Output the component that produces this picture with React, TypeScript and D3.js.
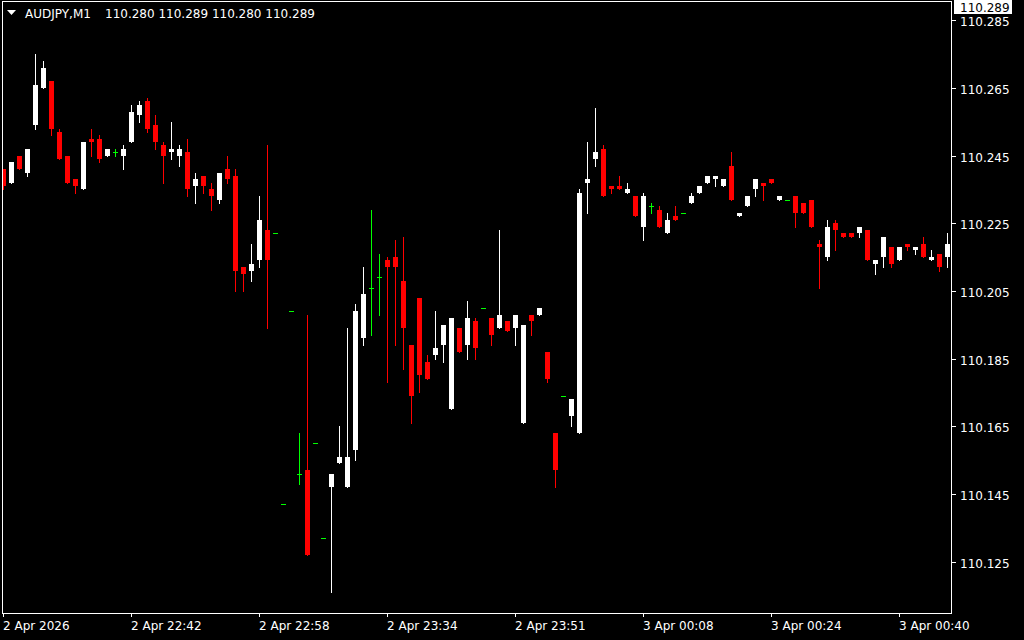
import React, { useEffect, useRef } from "react";
import * as d3 from "d3";

// AUDJPY M1 bars (oldest first)
const opens = [
  110.241, 110.237, 110.245, 110.240, 110.254, 110.265, 110.267, 110.252, 110.245, 110.238,
  110.235, 110.250, 110.250, 110.245, 110.246, 110.245, 110.249, 110.257, 110.261, 110.254,
  110.248, 110.246, 110.245, 110.246, 110.236, 110.239, 110.235, 110.232, 110.241, 110.239,
  110.212, 110.211, 110.214, 110.223, 110.222, 110.142, 110.199, 110.151, 110.152, 110.160,
  110.132, 110.147, 110.154, 110.147, 110.158, 110.191, 110.206, 110.209, 110.214, 110.215,
  110.208, 110.189, 110.203, 110.184, 110.186, 110.189, 110.170, 110.194, 110.189, 110.196,
  110.200, 110.197, 110.194, 110.196, 110.194, 110.166, 110.198, 110.198, 110.187, 110.163,
  110.174, 110.168, 110.163, 110.237, 110.244, 110.247, 110.236, 110.236, 110.234, 110.233,
  110.224, 110.230, 110.229, 110.222, 110.227, 110.228, 110.231, 110.234, 110.237, 110.238,
  110.236, 110.242, 110.227, 110.230, 110.235, 110.237, 110.238, 110.232, 110.232, 110.233,
  110.231, 110.232, 110.219, 110.215, 110.225, 110.222, 110.222, 110.222, 110.223, 110.213,
  110.215, 110.218, 110.214, 110.219, 110.217, 110.219, 110.214, 110.216, 110.215,
];
const highs = [
  110.241, 110.243, 110.245, 110.247, 110.275, 110.273, 110.267, 110.253, 110.245, 110.238,
  110.249, 110.253, 110.251, 110.247, 110.247, 110.248, 110.260, 110.261, 110.262, 110.257,
  110.249, 110.255, 110.248, 110.250, 110.240, 110.239, 110.237, 110.240, 110.245, 110.241,
  110.212, 110.219, 110.233, 110.248, 110.222, 110.142, 110.199, 110.163, 110.198, 110.160,
  110.132, 110.151, 110.165, 110.194, 110.201, 110.212, 110.229, 110.216, 110.215, 110.220,
  110.221, 110.189, 110.203, 110.186, 110.199, 110.195, 110.197, 110.194, 110.202, 110.197,
  110.200, 110.197, 110.223, 110.196, 110.198, 110.195, 110.198, 110.200, 110.187, 110.163,
  110.174, 110.173, 110.235, 110.249, 110.259, 110.248, 110.236, 110.239, 110.237, 110.233,
  110.234, 110.231, 110.230, 110.228, 110.230, 110.228, 110.234, 110.236, 110.239, 110.239,
  110.238, 110.246, 110.228, 110.233, 110.238, 110.237, 110.238, 110.233, 110.232, 110.233,
  110.231, 110.232, 110.220, 110.226, 110.226, 110.222, 110.222, 110.224, 110.223, 110.214,
  110.221, 110.218, 110.218, 110.219, 110.218, 110.221, 110.217, 110.216, 110.222,
];
const lows = [
  110.235, 110.237, 110.241, 110.239, 110.253, 110.265, 110.251, 110.244, 110.237, 110.234,
  110.235, 110.245, 110.243, 110.245, 110.245, 110.241, 110.249, 110.255, 110.252, 110.247,
  110.237, 110.244, 110.242, 110.233, 110.231, 110.234, 110.229, 110.231, 110.237, 110.205,
  110.205, 110.208, 110.212, 110.194, 110.222, 110.142, 110.199, 110.148, 110.127, 110.160,
  110.132, 110.116, 110.154, 110.147, 110.155, 110.189, 110.192, 110.198, 110.178, 110.189,
  110.182, 110.166, 110.175, 110.179, 110.185, 110.184, 110.170, 110.187, 110.185, 110.185,
  110.200, 110.189, 110.194, 110.193, 110.189, 110.166, 110.192, 110.198, 110.178, 110.147,
  110.174, 110.165, 110.163, 110.228, 110.242, 110.233, 110.234, 110.235, 110.234, 110.227,
  110.220, 110.228, 110.224, 110.222, 110.226, 110.228, 110.231, 110.234, 110.237, 110.236,
  110.236, 110.232, 110.227, 110.230, 110.233, 110.232, 110.237, 110.232, 110.232, 110.224,
  110.228, 110.224, 110.206, 110.214, 110.217, 110.221, 110.221, 110.221, 110.214, 110.210,
  110.212, 110.212, 110.214, 110.217, 110.216, 110.215, 110.214, 110.211, 110.212,
];
const closes = [
  110.236, 110.243, 110.241, 110.247, 110.266, 110.271, 110.253, 110.244, 110.237, 110.236,
  110.249, 110.249, 110.244, 110.247, 110.246, 110.247, 110.258, 110.260, 110.253, 110.249,
  110.245, 110.247, 110.247, 110.235, 110.238, 110.236, 110.233, 110.240, 110.238, 110.211,
  110.210, 110.213, 110.226, 110.214, 110.222, 110.142, 110.199, 110.151, 110.127, 110.160,
  110.132, 110.151, 110.156, 110.156, 110.199, 110.204, 110.206, 110.209, 110.212, 110.212,
  110.194, 110.174, 110.180, 110.179, 110.188, 110.195, 110.197, 110.187, 110.197, 110.188,
  110.200, 110.192, 110.198, 110.193, 110.198, 110.195, 110.196, 110.200, 110.179, 110.152,
  110.174, 110.173, 110.234, 110.238, 110.246, 110.233, 110.235, 110.235, 110.235, 110.227,
  110.233, 110.230, 110.224, 110.226, 110.226, 110.228, 110.233, 110.236, 110.239, 110.239,
  110.238, 110.232, 110.228, 110.233, 110.238, 110.236, 110.237, 110.233, 110.232, 110.228,
  110.228, 110.224, 110.218, 110.224, 110.223, 110.221, 110.221, 110.224, 110.214, 110.214,
  110.221, 110.213, 110.218, 110.218, 110.218, 110.215, 110.215, 110.212, 110.219,
];

const priceTicks = [110.125, 110.145, 110.165, 110.185, 110.205, 110.225, 110.245, 110.265, 110.285];
const timeLabels = [
  "2 Apr 2026", "2 Apr 22:42", "2 Apr 22:58", "2 Apr 23:34",
  "2 Apr 23:51", "3 Apr 00:08", "3 Apr 00:24", "3 Apr 00:40",
];
const timeLabelBars = [0, 16, 32, 48, 64, 80, 96, 112];
const symbol = "AUDJPY,M1";
const lastBarOHLC = ["110.280", "110.289", "110.280", "110.289"];
const bid = 110.289;

const W = 1024;
const H = 640;
const FONT = "'DejaVu Sans', sans-serif";

function CandleChart() {
  const ref = useRef<SVGSVGElement>(null);

  useEffect(() => {
    document.body.style.margin = "0";
    document.body.style.background = "#000";

    const svg = d3.select(ref.current).attr("width", W).attr("height", H);
    svg.selectAll("*").remove();

    svg.append("rect").attr("width", W).attr("height", H).attr("fill", "#000");

    const idx = d3.range(opens.length);
    const x = d3
      .scaleBand<number>()
      .domain(idx)
      .range([-0.5, -0.5 + idx.length * 8]);
    const xc = (i: number) => (x(i) as number) + x.bandwidth() / 2;

    const y = d3.scaleLinear().domain([110.125, 110.285]).range([561.5, 20.3]);
    const ry = (p: number) => Math.round(y(p));

    svg
      .append("clipPath")
      .attr("id", "plot")
      .append("rect")
      .attr("x", 3)
      .attr("y", 2)
      .attr("width", 948)
      .attr("height", 611);

    const g = svg.append("g").attr("clip-path", "url(#plot)").attr("shape-rendering", "crispEdges");

    const bars = g.selectAll("g.bar").data(idx).join("g").attr("class", "bar");

    // wicks
    bars
      .append("line")
      .attr("x1", (i) => xc(i))
      .attr("x2", (i) => xc(i))
      .attr("y1", (i) => ry(highs[i]))
      .attr("y2", (i) => ry(lows[i]) + 1)
      .attr("stroke", (i) =>
        opens[i] === closes[i] ? "#00ff00" : closes[i] > opens[i] ? "#ffffff" : "#ff0000"
      )
      .attr("stroke-width", 1);

    // bodies
    bars
      .filter((i) => opens[i] !== closes[i])
      .append("rect")
      .attr("x", (i) => xc(i) - 2.5)
      .attr("width", 5)
      .attr("y", (i) => ry(Math.max(opens[i], closes[i])))
      .attr("height", (i) =>
        Math.max(1, ry(Math.min(opens[i], closes[i])) - ry(Math.max(opens[i], closes[i])))
      )
      .attr("fill", (i) => (closes[i] > opens[i] ? "#ffffff" : "#ff0000"));

    // doji dashes
    bars
      .filter((i) => opens[i] === closes[i])
      .append("line")
      .attr("x1", (i) => xc(i) - 2.5)
      .attr("x2", (i) => xc(i) + 2.5)
      .attr("y1", (i) => ry(opens[i]) + 0.5)
      .attr("y2", (i) => ry(opens[i]) + 0.5)
      .attr("stroke", "#00ff00")
      .attr("stroke-width", 1);

    // frame
    svg
      .append("rect")
      .attr("x", 2.5)
      .attr("y", 1.5)
      .attr("width", 949)
      .attr("height", 612)
      .attr("fill", "none")
      .attr("stroke", "#ffffff")
      .attr("shape-rendering", "crispEdges");

    // price axis
    const py = svg.append("g").attr("shape-rendering", "crispEdges");
    priceTicks.forEach((p) => {
      const ty = ry(p) + 0.5;
      py.append("line")
        .attr("x1", 952)
        .attr("x2", 956)
        .attr("y1", ty)
        .attr("y2", ty)
        .attr("stroke", "#ffffff");
      py.append("text")
        .attr("x", 960)
        .attr("y", ty + 5)
        .attr("fill", "#ffffff")
        .style("font-family", FONT)
        .style("font-size", "12px")
        .text(p.toFixed(3));
    });

    // current bid label
    const by = ry(bid);
    svg
      .append("rect")
      .attr("x", 954)
      .attr("y", by - 7)
      .attr("width", 58)
      .attr("height", 14)
      .attr("fill", "#ffffff");
    svg
      .append("text")
      .attr("x", 960)
      .attr("y", by + 5)
      .attr("fill", "#000000")
      .style("font-family", FONT)
      .style("font-size", "12px")
      .text(bid.toFixed(3));

    // time axis
    const tx = svg.append("g");
    timeLabels.forEach((t, k) => {
      const px = xc(timeLabelBars[k]);
      tx.append("line")
        .attr("x1", px)
        .attr("x2", px)
        .attr("y1", 613)
        .attr("y2", 617)
        .attr("stroke", "#ffffff")
        .attr("shape-rendering", "crispEdges");
      tx.append("text")
        .attr("x", px - 0.5)
        .attr("y", 630)
        .attr("fill", "#ffffff")
        .style("font-family", FONT)
        .style("font-size", "12px")
        .text(t);
    });

    // header
    svg
      .append("path")
      .attr("d", "M7,10 L16,10 L11.5,15 Z")
      .attr("fill", "#ffffff");
    svg
      .append("text")
      .attr("x", 25)
      .attr("y", 18)
      .attr("fill", "#ffffff")
      .style("font-family", FONT)
      .style("font-size", "12px")
      .text(symbol);
    svg
      .append("text")
      .attr("x", 105)
      .attr("y", 18)
      .attr("fill", "#ffffff")
      .style("font-family", FONT)
      .style("font-size", "12px")
      .text(lastBarOHLC.join(" "));
  }, []);

  return <svg ref={ref} style={{ display: "block" }}></svg>;
}

export default function App() {
  return <CandleChart />;
}
